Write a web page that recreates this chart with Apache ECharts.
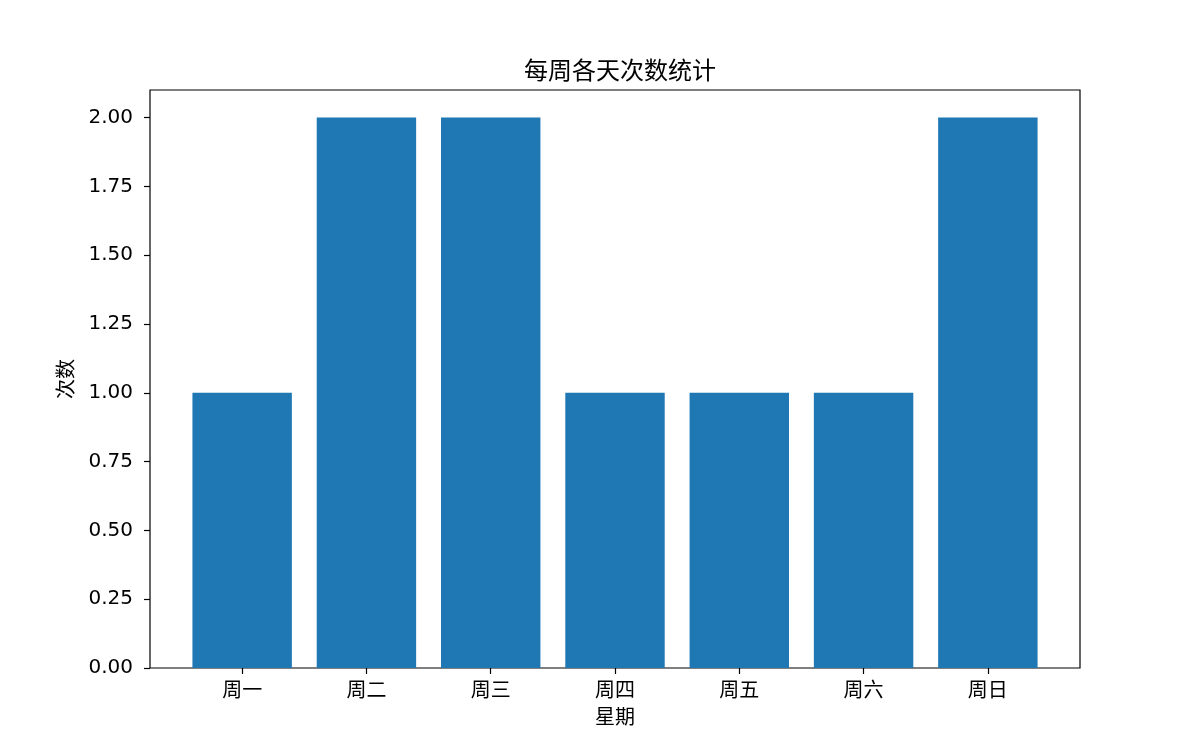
<!DOCTYPE html>
<html><head><meta charset="utf-8">
<script src="https://cdn.jsdelivr.net/npm/echarts@6/dist/echarts.min.js"></script>
<style>html,body{margin:0;padding:0;background:#fff}#c{width:1200px;height:750px}</style>
</head><body><div id="c"></div>
<script>
const titleText = '每周各天次数统计';
const xName = '星期';
const yName = '次数';
const categories = ['周一','周二','周三','周四','周五','周六','周日'];
const values = [1, 2, 2, 1, 1, 1, 2];
const yTicks = [0, 0.25, 0.5, 0.75, 1.0, 1.25, 1.5, 1.75, 2.0];
const yMax = 2.1;

const FONT = 'DejaVu Sans, Noto Sans CJK SC, sans-serif';
const chart = echarts.init(document.getElementById('c'), null, {renderer: 'canvas'});
chart.setOption({
  animation: false,
  title: {text: titleText, left: 615, textAlign: 'center', top: 56,
    textStyle: {fontFamily: FONT, fontSize: 24, fontWeight: 'normal', color: '#000'}},
  grid: [
    {left: 150, right: 120, top: 90, bottom: 82, show: true, borderColor: '#000', borderWidth: 1.2, backgroundColor: 'transparent'},
    {left: 180, right: 150, top: 90, bottom: 82}
  ],
  xAxis: [
    {type: 'value', gridIndex: 0, show: false, min: 0, max: 1},
    {type: 'category', gridIndex: 1, data: categories,
      axisLine: {show: false},
      axisTick: {show: true, alignWithLabel: true, length: 6, lineStyle: {color: '#000', width: 1.2}},
      axisLabel: {color: '#000', fontFamily: FONT, fontSize: 20, margin: 14},
      name: xName, nameLocation: 'middle', nameGap: 41,
      nameTextStyle: {color: '#000', fontFamily: FONT, fontSize: 20}}
  ],
  yAxis: [
    {type: 'value', gridIndex: 0, min: 0, max: yMax,
      axisLine: {show: false}, splitLine: {show: false},
      axisTick: {show: true, length: 6, lineStyle: {color: '#000', width: 1.2}, customValues: yTicks},
      axisLabel: {color: '#000', fontFamily: FONT, fontSize: 20, margin: 17, customValues: yTicks,
        formatter: v => v.toFixed(2)},
      name: yName, nameLocation: 'middle', nameGap: 68,
      nameTextStyle: {color: '#000', fontFamily: FONT, fontSize: 20}},
    {type: 'value', gridIndex: 1, min: 0, max: yMax, show: false}
  ],
  series: [{type: 'bar', xAxisIndex: 1, yAxisIndex: 1, data: values, barWidth: '80%',
    itemStyle: {color: '#1f77b4'}}]
});
</script></body></html>
